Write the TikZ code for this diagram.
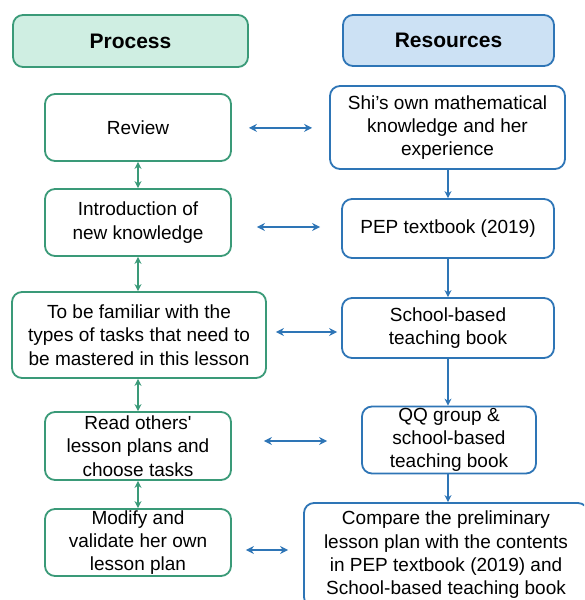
\documentclass[tikz,border=0pt]{standalone}
\usepackage{fontspec}
\setmainfont{Liberation Sans}
\usetikzlibrary{arrows.meta,calc}
\definecolor{pgreen}{HTML}{3A9A78}
\definecolor{pgreenfill}{HTML}{CFEEE2}
\definecolor{rblue}{HTML}{2E75B6}
\definecolor{rbluefill}{HTML}{CCE1F4}
\tikzset{
  box/.style={rounded corners=10pt, line width=1.8pt, align=center, inner sep=0pt,
    font=\fontsize{19}{23.3}\selectfont, text=black, fill=white},
  pbox/.style={box, draw=pgreen},
  rbox/.style={box, draw=rblue},
  phead/.style={pbox, fill=pgreenfill, font=\fontsize{21}{24}\selectfont\bfseries},
  rhead/.style={rbox, fill=rbluefill, font=\fontsize{21}{24}\selectfont\bfseries},
  harrow/.style={draw=rblue, line width=1.6pt, {Stealth[length=8pt,width=8pt]}-{Stealth[length=8pt,width=8pt]}},
  varrow/.style={draw=pgreen, line width=1.2pt, {Stealth[length=7pt,width=7pt]}-{Stealth[length=7pt,width=7pt]}},
  darrow/.style={draw=rblue, line width=1.2pt, -{Stealth[length=7pt,width=7pt]}},
}
\begin{document}
\begin{tikzpicture}[x=1pt,y=-1pt]
\useasboundingbox (0,0) rectangle (584,600);
\clip (0,0) rectangle (584,600);
% headers
\node[phead, minimum width=235pt, minimum height=52pt] (process) at (130.5,41) {Process};
\node[rhead, minimum width=211pt, minimum height=51pt] (resources) at (448.5,40.5) {Resources};
% process column
\node[pbox, minimum width=186pt, minimum height=67pt] (review) at (138,127.5) {Review};
\node[pbox, minimum width=186pt, minimum height=67pt] (intro) at (138,222.5) {Introduction of\\new knowledge};
\node[pbox, minimum width=254pt, minimum height=86pt] (familiar) at (139,335) {To be familiar with the\\types of tasks that need to\\be mastered in this lesson};
\node[pbox, minimum width=186pt, minimum height=68pt] (read) at (138,446) {Read others\textquotesingle\\lesson plans and\\choose tasks};
\node[pbox, minimum width=186pt, minimum height=67pt] (modify) at (138,542.5) {Modify and\\validate her own\\lesson plan};
% resources column
\node[rbox, minimum width=235pt, minimum height=83pt] (shi) at (447.5,127.5) {Shi’s own mathematical\\knowledge and her\\experience};
\node[rbox, minimum width=212pt, minimum height=59pt] (pep) at (448,228.5) {PEP textbook (2019)};
\node[rbox, minimum width=212pt, minimum height=60pt] (school) at (448,328) {School-based\\teaching book};
\node[rbox, minimum width=174pt, minimum height=67pt] (qq) at (449,440) {QQ group \&\\school-based\\teaching book};
\node[rbox, minimum width=284pt, minimum height=104pt] (compare) at (446,555) {Compare the preliminary\\lesson plan with the contents\\in PEP textbook (2019) and\\School-based teaching book};
% vertical process arrows
\draw[varrow] (review.south) -- (intro.north);
\draw[varrow] (intro.south) -- (intro.south |- familiar.north);
\draw[varrow] (intro.south |- familiar.south) -- (read.north);
\draw[varrow] (read.south) -- (modify.north);
% vertical resource arrows
\draw[darrow] (pep.north |- shi.south) -- (pep.north);
\draw[darrow] (pep.south) -- (school.north);
\draw[darrow] (school.south) -- (school.south |- qq.north);
\draw[darrow] (school.south |- qq.south) -- (school.north |- compare.north);
% horizontal arrows
\draw[harrow, shorten <=17pt, shorten >=17pt] ([yshift=-0.4pt]review.east) -- ([yshift=-0.4pt]review.east -| shi.west);
\draw[harrow, shorten <=25pt, shorten >=21pt] ([yshift=-4.5pt]intro.east) -- ([yshift=-4.5pt]intro.east -| pep.west);
\draw[harrow, shorten <=9pt, shorten >=4pt] ([yshift=3pt]familiar.east) -- ([yshift=3pt]familiar.east -| school.west);
\draw[harrow, shorten <=32pt, shorten >=34pt] ([yshift=5pt]read.east) -- ([yshift=5pt]read.east -| qq.west);
\draw[harrow, shorten <=14pt, shorten >=15pt] ([yshift=-7.5pt]modify.east) -- ([yshift=-7.5pt]modify.east -| compare.west);
\end{tikzpicture}
\end{document}
